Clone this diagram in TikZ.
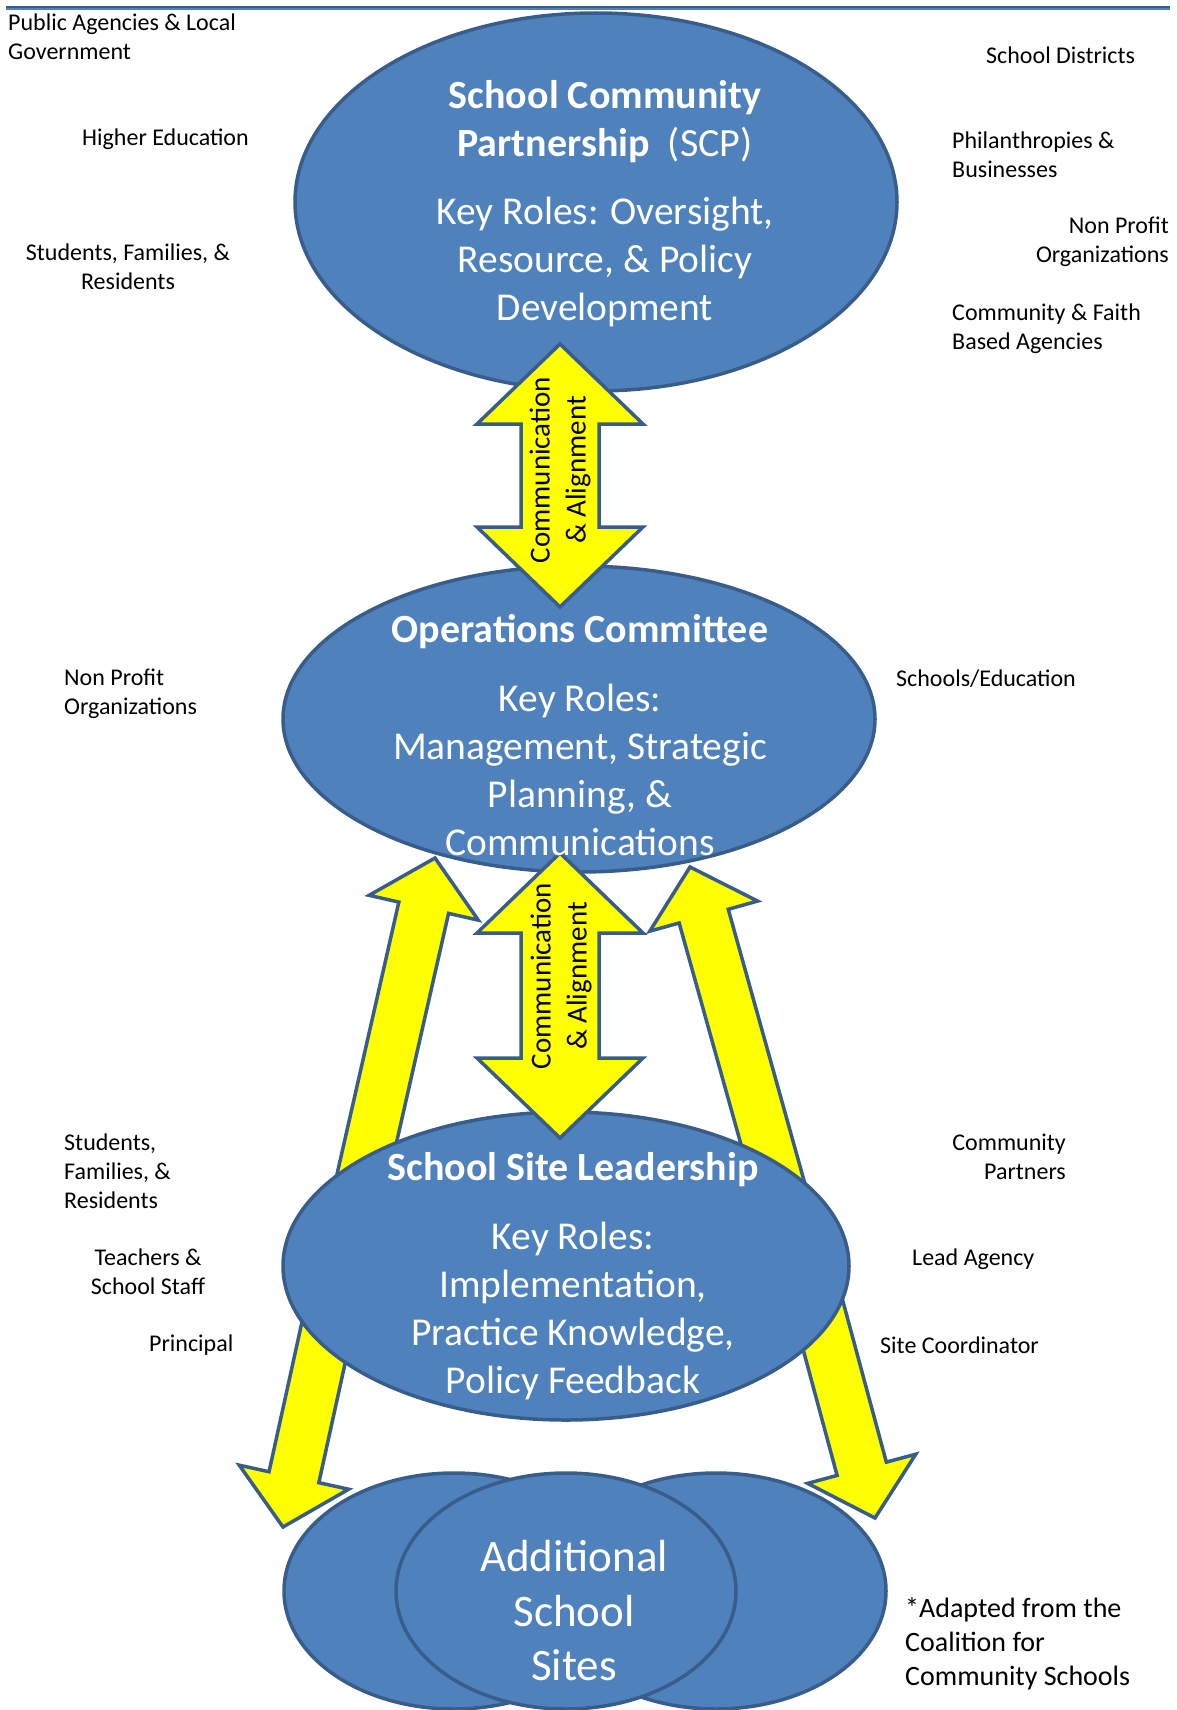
\documentclass[tikz,border=0pt]{standalone}
\usepackage{fontspec}
\setmainfont{Carlito}
\usetikzlibrary{shapes.geometric}

\definecolor{bubbleblue}{HTML}{4F81BD}
\definecolor{rimblue}{HTML}{385D8A}
\definecolor{signyellow}{HTML}{FFFF00}

\tikzset{
  bubble/.style={ellipse, draw=rimblue, fill=bubbleblue, line width=3.5pt, inner sep=0pt},
  blockarrow/.style={draw=rimblue, fill=signyellow, line width=3.5pt, line join=miter},
  roletext/.style={text=white, align=center, inner sep=0pt, font=\fontsize{39.5}{48}\selectfont},
  headtext/.style={roletext, font=\bfseries\fontsize{40}{48}\selectfont},
  sidetext/.style={align=left, inner sep=0pt, font=\fontsize{24}{29}\selectfont},
  flowtext/.style={align=center, inner sep=0pt, rotate=90, font=\fontsize{29}{36}\selectfont}
}

\begin{document}
\begin{tikzpicture}[x=1pt, y=-1pt]
\useasboundingbox (0,0) rectangle (1177,1710);

% rule along the top
\draw[rimblue, line width=2pt] (6,7) -- (1170,7);
\draw[bubbleblue, line width=1.5pt] (6,9) -- (1170,9);

% slanted arrows first, the site ellipse hides their tails
\foreach \tx/\ty/\ang/\len in {435/858/-102.8/400, 690/867/-74.4/395, 283/1527/77.6/285, 875/1518/105.1/280}
  \draw[blockarrow, shift={(\tx,\ty)}, rotate=\ang] (0,0) -- (51,56) -- (51,25.5) -- (\len,25.5) -- (\len,-25.5) -- (51,-25.5) -- (51,-56) -- cycle;

% ellipses
\node[bubble, minimum width=602pt, minimum height=378pt] (scp) at (596,202) {};
\node[bubble, minimum width=592pt, minimum height=306pt] (ops) at (579,719) {};
\node[bubble, minimum width=566pt, minimum height=308pt] (site) at (566,1266) {};
\foreach \n/\x in {sitesL/454, sitesR/716, sitesM/566}
  \node[bubble, minimum width=340pt, minimum height=236pt] (\n) at (\x,1591) {};

% communication arrows
\foreach \cx/\ya/\yb in {560/344/607, 560/853/1138}
  \draw[blockarrow] (\cx,\ya) -- ++(83,80) -- ++(-44,0) -- (\cx+39,\yb-80) -- ++(44,0) -- (\cx,\yb) -- ++(-83,-80) -- ++(44,0) -- (\cx-39,\ya+80) -- ++(-44,0) -- cycle;

\node[flowtext] (flowA) at (560,470) {Communication\\\& Alignment};
\node[flowtext] (flowB) at (561,976) {Communication\\\& Alignment};

% ellipse texts
\node[headtext] (scpTitle) at (605,122) {School Community\\Partnership\ \ {\mdseries (SCP)}};
\node[roletext] (scpRoles) at (605,262) {Key Roles: Oversight,\\Resource, \& Policy\\Development};
\node[headtext] (opsTitle) at (580,632) {Operations Committee};
\node[roletext] (opsRoles) at (580,770) {Key Roles:\\Management, Strategic\\Planning, \&\\Communications};
\node[headtext] (siteTitle) at (573,1170) {School Site Leadership};
\node[roletext] (siteRoles) at (573,1311) {Key Roles:\\Implementation,\\Practice Knowledge,\\Policy Feedback};
\node[roletext, font=\fontsize{45}{54.5}\selectfont] (sitesText) at (574,1611) {Additional\\School\\Sites};

% partners round the ellipses
\node[sidetext, anchor=west] (agencies) at (8,37) {Public Agencies \& Local\\Government};
\node[sidetext, anchor=west] (districts) at (986,55) {School Districts};
\node[sidetext, anchor=west] (highered) at (82,139) {Higher Education};
\node[sidetext, anchor=west] (philanthropy) at (952,155) {Philanthropies \&\\Businesses};
\node[sidetext, align=center] (familiesTop) at (128,267) {Students, Families, \&\\Residents};
\node[sidetext, anchor=east, align=right] (nonprofitTop) at (1169,242) {Non Profit\\Organizations};
\node[sidetext, anchor=west] (faith) at (952,329) {Community \& Faith\\Based Agencies};
\node[sidetext, anchor=west] (nonprofitOps) at (64,694) {Non Profit\\Organizations};
\node[sidetext, anchor=west] (schools) at (896,679) {Schools/Education};
\node[sidetext, anchor=west] (familiesSite) at (64,1171) {Students,\\Families, \&\\Residents};
\node[sidetext, anchor=east, align=right] (partners) at (1066,1157) {Community\\Partners};
\node[sidetext, align=center] (teachers) at (148,1272) {Teachers \&\\School Staff};
\node[sidetext, anchor=west] (lead) at (912,1259) {Lead Agency};
\node[sidetext, anchor=west] (principal) at (149,1345) {Principal};
\node[sidetext, anchor=west] (coordinator) at (880,1345) {Site Coordinator};
\node[sidetext, anchor=west, font=\fontsize{28}{34}\selectfont] (source) at (905,1644) {*Adapted from the\\Coalition for\\Community Schools};
\end{tikzpicture}
\end{document}
